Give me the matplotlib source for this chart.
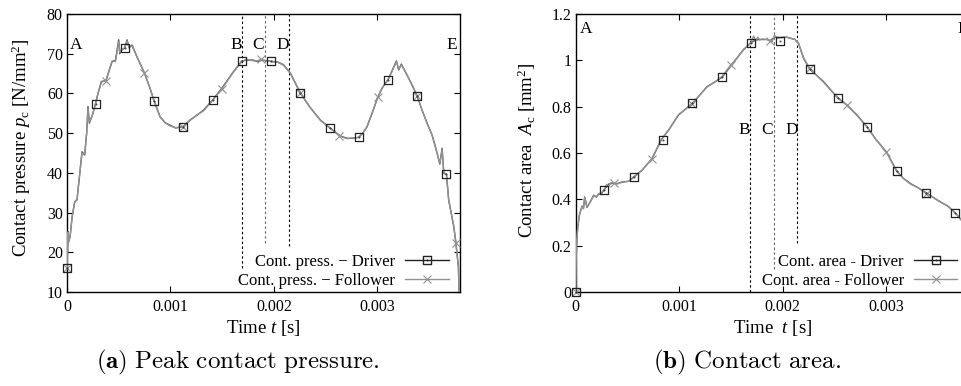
import numpy as np
import matplotlib
matplotlib.use("Agg")
import matplotlib.pyplot as plt
from matplotlib.path import Path
from matplotlib.lines import Line2D

plt.rcParams['font.family'] = ['Liberation Serif', 'DejaVu Serif']
plt.rcParams['mathtext.fontset'] = 'custom'
plt.rcParams['mathtext.rm'] = 'Liberation Serif'
plt.rcParams['mathtext.it'] = 'Liberation Serif:italic'
plt.rcParams['mathtext.bf'] = 'Liberation Serif:bold'

# ---------------- data (time in ms) ----------------
# (a) contact pressure, driver line
p_drv_t = [0, 0.01, 0.016, 0.03, 0.05, 0.074, 0.097, 0.12, 0.145, 0.171, 0.19, 0.203, 0.216,
           0.245, 0.274, 0.30, 0.332, 0.378, 0.41, 0.436, 0.468, 0.50, 0.51, 0.526, 0.558, 0.581,
           0.60, 0.629, 0.68, 0.748, 0.80, 0.842, 0.90, 0.95, 0.997, 1.05, 1.12, 1.19, 1.256,
           1.32, 1.407, 1.497, 1.61, 1.691, 1.74, 1.80, 1.84, 1.878, 1.92, 1.972, 2.04, 2.094,
           2.16, 2.21, 2.256, 2.35, 2.45, 2.539, 2.643, 2.708, 2.76, 2.82, 2.86, 2.90, 2.95,
           3.004, 3.05, 3.105, 3.153, 3.185, 3.207, 3.233, 3.288, 3.33, 3.385, 3.43, 3.482,
           3.53, 3.562, 3.605, 3.627, 3.643, 3.669, 3.691, 3.74, 3.759, 3.785, 3.79]
p_drv_v = [16, 25.2, 22.7, 24, 29, 32.7, 33.2, 39, 45.3, 44.5, 50, 56.7, 52.5,
           54.5, 57.3, 60, 63, 63.2, 66, 68, 68.3, 73.5, 70, 70.9, 71.4, 73.5,
           71.5, 72.2, 69, 65.2, 61.5, 58.2, 54.1, 52.6, 52, 51.3, 51.6, 53.3, 54.5,
           55.8, 58.3, 61.3, 65.5, 68.2, 68.4, 68.4, 68.0, 68.3, 68.3, 68.1, 67.9, 67.2,
           65.1, 62.5, 60.1, 56.5, 53.3, 51.4, 49.3, 48.7, 48.7, 48.95, 50, 51.6, 55,
           59, 61.5, 63.5, 66.3, 68.2, 65.9, 67.4, 64.6, 62.5, 59.4, 56, 52.5,
           49.5, 46.6, 42.2, 46.2, 39.9, 39.6, 33.2, 26.4, 22.7, 16.4, 10]
# (a) contact pressure, follower line
p_fol_t = p_drv_t
p_fol_v = [16, 25.0, 22.5, 24, 29, 32.5, 33.4, 39, 45.0, 44.8, 50, 56.2, 52.8,
           54.5, 57.0, 60, 62.8, 63.4, 66, 68.2, 68.0, 73.0, 70.4, 70.9, 71.6, 73.2,
           71.5, 72.0, 69, 65.2, 61.5, 58.0, 54.1, 52.6, 51.8, 51.4, 51.6, 53.2, 54.6,
           55.6, 58.2, 61.1, 65.4, 68.0, 68.6, 68.2, 68.2, 68.6, 68.2, 68.0, 67.8, 67.1,
           65.0, 62.5, 60.2, 56.5, 53.2, 51.3, 49.2, 48.6, 48.8, 48.9, 50, 51.5, 55,
           59, 61.4, 63.6, 66.1, 68.0, 66.1, 67.2, 64.7, 62.4, 59.5, 56, 52.4,
           49.6, 46.5, 42.5, 45.8, 40.2, 39.6, 33.0, 26.6, 22.5, 16.0, 10]
# markers
p_drv_mt = [0, 0.278, 0.558, 0.842, 1.12, 1.407, 1.691, 1.972, 2.256, 2.539, 2.82, 3.105, 3.385, 3.669]
p_drv_mv = [16, 57.3, 71.4, 58.2, 51.6, 58.3, 68.1, 68.1, 60.1, 51.4, 48.95, 63.5, 59.4, 39.6]
p_fol_mt = [0, 0.378, 0.748, 1.12, 1.497, 1.878, 2.256, 2.633, 3.004, 3.385, 3.759]
p_fol_mv = [16, 63.2, 65.2, 51.6, 61.0, 68.6, 60.1, 49.3, 59.0, 59.4, 22.4]

# (b) contact area, driver line
a_drv_t = [0, 0.005, 0.01, 0.02, 0.035, 0.061, 0.075, 0.087, 0.109, 0.141, 0.174, 0.2, 0.22,
           0.25, 0.277, 0.319, 0.368, 0.40, 0.448, 0.513, 0.561, 0.642, 0.739, 0.829, 0.9,
           0.994, 1.05, 1.129, 1.2, 1.268, 1.34, 1.413, 1.5, 1.56, 1.62, 1.694, 1.74, 1.784,
           1.849, 1.88, 1.922, 1.971, 2.04, 2.12, 2.155, 2.203, 2.262, 2.33, 2.397, 2.47,
           2.536, 2.623, 2.72, 2.817, 2.9, 3.004, 3.104, 3.17, 3.237, 3.31, 3.388, 3.45,
           3.527, 3.6, 3.672, 3.73, 3.78]
a_drv_v = [0.0, 0.15, 0.223, 0.28, 0.331, 0.37, 0.36, 0.41, 0.365, 0.389, 0.418, 0.41, 0.422,
           0.425, 0.442, 0.466, 0.470, 0.468, 0.474, 0.478, 0.497, 0.526, 0.576, 0.658, 0.70,
           0.764, 0.785, 0.814, 0.85, 0.886, 0.905, 0.926, 0.975, 1.01, 1.044, 1.076, 1.088, 1.09,
           1.09, 1.085, 1.10, 1.098, 1.10, 1.09, 1.073, 1.009, 0.962, 0.935, 0.908, 0.87,
           0.838, 0.807, 0.764, 0.713, 0.66, 0.605, 0.523, 0.49, 0.468, 0.45, 0.429, 0.41,
           0.389, 0.37, 0.341, 0.31, 0.27]
# (b) contact area, follower line
a_fol_t = [0, 0.005, 0.01, 0.02, 0.035, 0.061, 0.075, 0.087, 0.109, 0.141, 0.174, 0.2, 0.22,
           0.25, 0.277, 0.30, 0.319, 0.34, 0.368, 0.40, 0.448, 0.513, 0.561, 0.642, 0.739, 0.829,
           0.9, 0.994, 1.05, 1.129, 1.2, 1.268, 1.34, 1.413, 1.5, 1.56, 1.62, 1.694, 1.72,
           1.74, 1.76, 1.78, 1.80, 1.849, 1.88, 1.90, 1.922, 1.95, 1.971, 2.04, 2.12, 2.155,
           2.203, 2.262, 2.33, 2.397, 2.47, 2.536, 2.623, 2.72, 2.817, 2.9, 3.004, 3.104,
           3.17, 3.237, 3.31, 3.388, 3.45, 3.527, 3.6, 3.672, 3.73, 3.78]
a_fol_v = [0.0, 0.15, 0.22, 0.28, 0.331, 0.372, 0.36, 0.41, 0.366, 0.39, 0.416, 0.41, 0.424,
           0.428, 0.445, 0.465, 0.455, 0.472, 0.470, 0.466, 0.476, 0.478, 0.494, 0.525, 0.578,
           0.66, 0.70, 0.766, 0.785, 0.816, 0.85, 0.884, 0.905, 0.93, 0.98, 1.01, 1.046, 1.076,
           1.105, 1.085, 1.10, 1.088, 1.092, 1.09, 1.082, 1.08, 1.108, 1.095, 1.098, 1.10,
           1.09, 1.073, 1.012, 0.965, 0.935, 0.905, 0.87, 0.836, 0.805, 0.762, 0.712, 0.66,
           0.603, 0.52, 0.49, 0.466, 0.45, 0.426, 0.41, 0.388, 0.37, 0.34, 0.31, 0.27]
# markers
a_drv_mt = [0, 0.277, 0.561, 0.843, 1.129, 1.413, 1.694, 1.971, 2.262, 2.536, 2.817, 3.104, 3.388, 3.672]
a_drv_mv = [0.0, 0.442, 0.497, 0.655, 0.814, 0.926, 1.076, 1.085, 0.962, 0.838, 0.713, 0.523, 0.429, 0.341]
a_fol_mt = [0, 0.368, 0.739, 1.12, 1.5, 1.88, 2.262, 2.623, 3.004, 3.388, 3.76]
a_fol_mv = [0.0, 0.471, 0.576, 0.81, 0.98, 1.082, 0.965, 0.807, 0.605, 0.425, 0.29]

phase_t = [1.69, 1.917, 2.144]  # B, C, D (ms)
x_ticks = [0, 0.001, 0.002, 0.003]
x_ticklabels = ['0', '0.001', '0.002', '0.003']
p_yticks = [10, 20, 30, 40, 50, 60, 70, 80]
a_yticks = [0, 0.2, 0.4, 0.6, 0.8, 1.0, 1.2]
a_yticklabels = ['0', '0.2', '0.4', '0.6', '0.8', '1', '1.2']

ms = 1e-3
DRV = '#555555'
FOL = '#929292'
SQ_MS = 5.8

sq = Path.make_compound_path(Path.unit_rectangle().transformed(
    matplotlib.transforms.Affine2D().translate(-0.5, -0.5)),
    Path.circle((0, 0), 0.04))

fig = plt.figure(figsize=(9.61, 3.86), dpi=100)
W, H = 961, 386
axL = fig.add_axes([67 / W, 1 - 292 / H, 393 / W, 278 / H])
axR = fig.add_axes([575.7 / W, 1 - 292 / H, 393 / W, 278 / H])


def style(ax):
    ax.set_xlim(0, 0.0038)
    ax.set_xticks(x_ticks)
    ax.set_xticklabels(x_ticklabels)
    ax.tick_params(direction='in', top=True, right=True, length=4.5, width=0.8,
                   labelsize=11.5, pad=5)
    ax.tick_params(axis='y', pad=3)
    for s in ax.spines.values():
        s.set_linewidth(1.0)


def draw(ax, dt, dv, ft, fv, dmt, dmv, fmt, fmv):
    ax.plot(np.array(dt) * ms, dv, color=DRV, lw=1.0, zorder=3)
    ax.plot(np.array(ft) * ms, fv, color=FOL, lw=1.0, zorder=4)
    ax.plot(np.array(fmt) * ms, fmv, ls='none', marker='x', ms=6, mew=0.8, color=FOL,
            zorder=5, clip_on=False)
    ax.plot(np.array(dmt) * ms, dmv, ls='none', marker=sq, ms=SQ_MS, mew=0.9, mec='#222222',
            mfc='none', zorder=6, clip_on=False)


LBL = 13.5
LET = 12.5
LEG = 12

# ---------- (a) ----------
style(axL)
axL.set_ylim(10, 80)
axL.set_yticks(p_yticks)
draw(axL, p_drv_t, p_drv_v, p_fol_t, p_fol_v, p_drv_mt, p_drv_mv, p_fol_mt, p_fol_mv)
dash = (0, (2.2, 2.2))
axL.vlines(phase_t[0] * ms, 16, 80, colors='black', linestyles=dash, lw=0.8, zorder=2)
axL.vlines(phase_t[1] * ms, 22.3, 80, colors='#666666', linestyles=dash, lw=0.8, zorder=2)
axL.vlines(phase_t[2] * ms, 21.5, 80, colors='black', linestyles=dash, lw=0.8, zorder=2)
for lab, tx in zip('ABCDE', [0.03, 1.578, 1.794, 2.023, 3.669]):
    axL.text(tx * ms, 72.2, lab, fontsize=LET, va='center', ha='left')
axL.set_xlabel(r'Time $t$ [s]', fontsize=LBL, labelpad=2)
axL.set_ylabel(r'Contact pressure $p_\mathrm{c}$ [N/mm$^2$]', fontsize=LBL)
axL.yaxis.set_label_coords(-0.087, 0.52)
hL = [Line2D([], [], color='#222222', lw=1.0, marker=sq, ms=SQ_MS, mfc='none', mec='#222222'),
      Line2D([], [], color=FOL, lw=1.0, marker='x', ms=6, mew=0.8)]
axL.legend(hL, ['Cont. press. \u2212 Driver', 'Cont. press. \u2212 Follower'],
           loc='lower right', bbox_to_anchor=(0.975, 0.005), frameon=False, markerfirst=False,
           fontsize=LEG, handlelength=2.6, handletextpad=0.6, labelspacing=0.2,
           borderpad=0.1, borderaxespad=0)

# ---------- (b) ----------
style(axR)
axR.set_ylim(0, 1.2)
axR.set_yticks(a_yticks)
axR.set_yticklabels(a_yticklabels)
draw(axR, a_drv_t, a_drv_v, a_fol_t, a_fol_v, a_drv_mt, a_drv_mv, a_fol_mt, a_fol_mv)
axR.vlines(phase_t[0] * ms, 0, 1.2, colors='black', linestyles=dash, lw=0.8, zorder=2)
axR.vlines(phase_t[1] * ms, 0.10, 1.2, colors='#666666', linestyles=dash, lw=0.8, zorder=2)
axR.vlines(phase_t[2] * ms, 0.21, 1.2, colors='black', linestyles=dash, lw=0.8, zorder=2)
axR.text(0.042 * ms, 1.135, 'A', fontsize=LET, va='center', ha='left')
axR.text(3.687 * ms, 1.135, 'E', fontsize=LET, va='center', ha='left')
for lab, tx in zip('BCD', [1.574, 1.794, 2.026]):
    axR.text(tx * ms, 0.70, lab, fontsize=LET, va='center', ha='left')
axR.set_xlabel(r'Time  $t$ [s]', fontsize=LBL, labelpad=2)
axR.set_ylabel(r'Contact area  $A_\mathrm{c}$ [mm$^2$]', fontsize=LBL)
axR.yaxis.set_label_coords(-0.096, 0.51)
axR.legend(hL, ['Cont. area - Driver', 'Cont. area - Follower'],
           loc='lower right', bbox_to_anchor=(0.975, 0.005), frameon=False, markerfirst=False,
           fontsize=LEG, handlelength=2.6, handletextpad=0.6, labelspacing=0.2,
           borderpad=0.1, borderaxespad=0)

# captions
fig.text(238 / W, 1 - 362 / H, r'$\mathbf{(a)}\ \mathrm{Peak\ contact\ pressure.}$',
         ha='center', va='center', fontsize=18, math_fontfamily='cm')
fig.text(746.7 / W, 1 - 362 / H, r'$\mathbf{(b)}\ \mathrm{Contact\ area.}$',
         ha='center', va='center', fontsize=18, math_fontfamily='cm')

fig.savefig('out.png', dpi=100)
